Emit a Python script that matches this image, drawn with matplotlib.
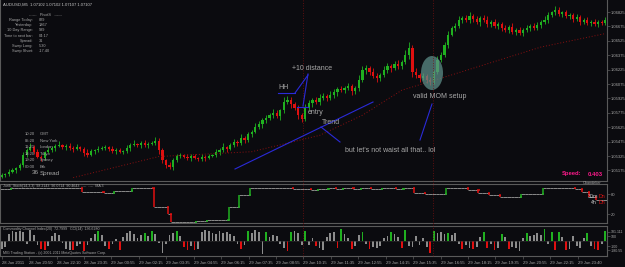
import matplotlib
matplotlib.use("Agg")
import matplotlib.pyplot as plt
from matplotlib.patches import Ellipse
from matplotlib.lines import Line2D
from matplotlib.collections import LineCollection
from matplotlib.transforms import Affine2D
import numpy as np

# ---------------- data ----------------
first_open = 1.0511
close = [
    1.0513, 1.0514, 1.0516, 1.0518, 1.0520, 1.0523, 1.0534, 1.0539, 1.0542, 1.0537,
    1.0532, 1.0530, 1.0537, 1.0539, 1.0541, 1.0543, 1.0544, 1.0542, 1.0543, 1.0541,
    1.0540, 1.0542, 1.0540, 1.0536, 1.0534, 1.0538, 1.0539, 1.0540, 1.0541, 1.0542,
    1.0540, 1.0538, 1.0539, 1.0537, 1.0538, 1.0541, 1.0544, 1.0545, 1.0544, 1.0546,
    1.0544, 1.0545, 1.0546, 1.0548, 1.0539, 1.0528, 1.0523, 1.0521, 1.0528, 1.0533,
    1.0534, 1.0532, 1.0530, 1.0533, 1.0530, 1.0529, 1.0532, 1.0530, 1.0533, 1.0534,
    1.0537, 1.0539, 1.0542, 1.0540, 1.0544, 1.0547, 1.0546, 1.0551, 1.0549, 1.0555,
    1.0558, 1.0563, 1.0566, 1.0570, 1.0572, 1.0575, 1.0577, 1.0574, 1.0580, 1.0589,
    1.0591, 1.0587, 1.0583, 1.0575, 1.0571, 1.0583, 1.0588, 1.0591, 1.0589, 1.0593,
    1.0595, 1.0593, 1.0596, 1.0599, 1.0602, 1.0601, 1.0603, 1.0605, 1.0600, 1.0603,
    1.0612, 1.0622, 1.0624, 1.0620, 1.0616, 1.0614, 1.0617, 1.0622, 1.0626, 1.0624,
    1.0628, 1.0626, 1.0630, 1.0638, 1.0645, 1.0620, 1.0617, 1.0614, 1.0616, 1.0612,
    1.0610, 1.0620, 1.0633, 1.0638, 1.0648, 1.0659, 1.0666, 1.0668, 1.0674, 1.0676,
    1.0674, 1.0678, 1.0675, 1.0672, 1.0676, 1.0674, 1.0670, 1.0672, 1.0668, 1.0670,
    1.0666, 1.0664, 1.0667, 1.0662, 1.0664, 1.0661, 1.0664, 1.0666, 1.0668, 1.0666,
    1.0669, 1.0672, 1.0674, 1.0679, 1.0682, 1.0685, 1.0680, 1.0682, 1.0678, 1.0679,
    1.0675, 1.0677, 1.0672, 1.0674, 1.0671, 1.0672, 1.0670, 1.0672, 1.0671, 1.0674,
]
# wick lengths above / below the body, in pips
wick_up = [
    2, 1, 3, 2, 1, 2, 3, 2, 4, 2, 3, 2, 1, 3, 2, 2, 4, 1, 2, 3,
    2, 3, 1, 2, 4, 2, 1, 3, 2, 2, 1, 3, 2, 2, 1, 3, 2, 4, 1, 2,
    3, 2, 2, 4, 3, 2, 1, 3, 2, 2, 2, 1, 3, 2, 2, 1, 3, 2, 2, 1,
    3, 2, 4, 1, 2, 3, 2, 4, 2, 3, 2, 4, 3, 2, 3, 2, 4, 3, 2, 5,
    4, 3, 2, 3, 2, 4, 3, 2, 3, 4, 3, 2, 4, 3, 2, 3, 2, 4, 3, 2,
    5, 4, 3, 2, 4, 3, 2, 4, 3, 2, 3, 4, 2, 5, 6, 3, 4, 2, 3, 2,
    3, 2, 4, 3, 3, 4, 2, 3, 4, 2, 3, 4, 2, 3, 2, 3, 4, 2, 3, 2,
    2, 3, 2, 4, 2, 3, 2, 3, 2, 3, 3, 2, 4, 3, 2, 4, 3, 2, 3, 2,
    2, 3, 2, 2, 3, 2, 3, 2, 2, 3,
]
wick_dn = [
    1, 2, 2, 1, 3, 2, 2, 3, 1, 2, 2, 3, 2, 1, 2, 3, 1, 2, 3, 2,
    3, 1, 2, 3, 2, 1, 3, 2, 1, 2, 2, 2, 3, 1, 2, 2, 3, 1, 2, 3,
    2, 3, 1, 2, 4, 3, 3, 2, 3, 2, 3, 2, 2, 3, 1, 2, 2, 3, 1, 2,
    2, 3, 2, 3, 1, 2, 3, 2, 3, 2, 3, 2, 2, 4, 3, 2, 3, 2, 4, 3,
    2, 4, 3, 4, 3, 2, 3, 4, 2, 3, 2, 3, 2, 3, 4, 2, 3, 2, 4, 3,
    3, 2, 4, 3, 2, 4, 3, 2, 3, 4, 2, 3, 3, 2, 4, 5, 3, 4, 2, 3,
    4, 3, 2, 3, 2, 3, 2, 3, 2, 3, 2, 3, 3, 2, 4, 2, 3, 3, 2, 3,
    3, 2, 3, 2, 3, 2, 3, 2, 3, 2, 2, 3, 2, 3, 2, 3, 2, 3, 2, 3,
    3, 2, 3, 2, 2, 3, 2, 3, 2, 2,
]

ma_idx = [20, 44, 70, 89, 101, 112, 126, 151, 169]
ma_val = [1.0510, 1.0532, 1.0537, 1.0554, 1.0575, 1.0601, 1.0617, 1.0646, 1.0660]

stoch_lvl = [
    96, 96, 96, 98, 98, 98, 98, 98, 98, 98, 98, 98, 98, 98, 98, 98, 98, 98, 98, 98,
    98, 98, 98, 86, 86, 86, 86, 86, 86, 83, 83, 83, 90, 90, 90, 90, 90, 98, 98, 98,
    98, 98, 98, 41, 41, 41, 41, 20, -4, -4, -4, -4, -4, -4, -4, -1, -1, -1, 2, 2,
    2, 2, 2, 2, 41, 41, 41, 77, 77, 77, 98, 98, 98, 98, 98, 98, 98, 98, 98, 98,
    98, 98, 95, 95, 95, 95, 95, 92, 92, 95, 95, 95, 98, 98, 95, 95, 98, 98, 98, 96,
    96, 98, 98, 98, 95, 95, 95, 98, 98, 98, 98, 96, 96, 98, 98, 98, 83, 83, 83, 80,
    80, 80, 80, 80, 80, 98, 98, 98, 98, 98, 98, 92, 92, 92, 83, 83, 83, 77, 77, 77,
    71, 71, 71, 71, 71, 71, 80, 80, 80, 80, 80, 80, 98, 98, 98, 98, 98, 98, 98, 98,
    98, 95, 95, 86, 86, 71, 71, 62, 62, 62,
]

cci = [
    -160, -120, 150, 200, 180, 210, 190, -60, 230, 120,
    -80, -150, -170, -90, 110, 160, 130, -40, -160, -180,
    -170, -100, -60, -190, -80, 60, 140, 200, 120, -90,
    -160, -60, 40, -170, 90, 170, 200, 150, 60, 120,
    170, 100, 200, 150, -40, -230, -60, 130, 170, 210,
    100, -120, -170, -90, -180, -150, 180, 220, 200, 160,
    140, 200, 170, 190, 150, 110, -50, -160, -80, 200,
    160, 230, 180, -260, 190, 80, 130, 100, -50, -130,
    -200, 180, 200, 160, -80, 200, -70, 60, -90, -130,
    -170, 80, 170, 190, -140, 240, 150, 60, -160, -100,
    130, 190, -60, -150, -120, -140, -90, 60, 100, 180,
    150, 90, -140, 220, -100, -120, 100, -80, 60, -120,
    -240, 210, 160, 190, 150, 170, 130, 160, -60, -150,
    -80, -130, -160, -110, 90, 190, -130, -60, -170, -140,
    140, 80, -160, -110, -130, -200, 70, 170, 100, 130,
    160, 120, 250, -60, 180, -170, 190, 90, -180, -150,
    110, -100, -130, 60, 170, -90, -150, -170, -60, 200,
]
cci_green = [27, 40, 42, 49, 69, 74, 81, 85, 95, 101, 109, 113, 121, 125, 135,
             140, 147, 152, 154, 156, 164, 169]
cci_red = [11, 12, 20, 23, 30, 33, 51, 52, 54, 67, 80, 88, 94, 98, 103, 112, 120,
           129, 132, 136, 138, 142, 155, 158, 166, 167]

price_ticks = [1.06825, 1.06675, 1.06525, 1.06375, 1.06225, 1.06075,
               1.05925, 1.05775, 1.05625, 1.05475, 1.05325, 1.05175]
time_labels = ["28 Jun 2011", "28 Jun 20:50", "28 Jun 22:10", "28 Jun 23:35",
               "29 Jun 00:55", "29 Jun 02:15", "29 Jun 03:35", "29 Jun 04:55",
               "29 Jun 06:15", "29 Jun 07:35", "29 Jun 08:55", "29 Jun 10:15",
               "29 Jun 11:35", "29 Jun 12:55", "29 Jun 14:15", "29 Jun 15:35",
               "29 Jun 16:55", "29 Jun 18:15", "29 Jun 19:35", "29 Jun 20:55",
               "29 Jun 22:15", "29 Jun 23:40"]

# ---------------- style ----------------
BG = "#0b0b0f"
GRID = "#5a5a5a"
TXT = "#a8a8a8"
UP = "#20b020"
DN = "#e01010"
W, H = 625, 267
FONT = "Liberation Sans"
PIP = 0.0001

fig = plt.figure(figsize=(W / 100, H / 100), dpi=100)
fig.patch.set_facecolor(BG)
pix = Affine2D().scale(1, -1).translate(0, H)   # pixel coords, origin top-left


def rect(x0, y0, x1, y1):
    return [x0 / W, 1 - y1 / H, (x1 - x0) / W, (y1 - y0) / H]


N = len(close)
idx = np.arange(N)
XL = (-0.5, N - 0.5)

ax1 = fig.add_axes(rect(0, 0, 607, 181))
ax2 = fig.add_axes(rect(0, 184, 607, 223))
ax3 = fig.add_axes(rect(0, 226, 607, 256))
for a in (ax1, ax2, ax3):
    a.set_facecolor(BG)
    a.set_xlim(*XL)
    for s in a.spines.values():
        s.set_color(GRID)
        s.set_linewidth(0.8)
    a.spines["top"].set_visible(a is not ax1)
    a.tick_params(axis="x", bottom=False, labelbottom=False)
    a.yaxis.tick_right()
    a.tick_params(axis="y", colors=GRID, labelcolor=TXT, labelsize=3,
                  length=2, width=0.5, pad=1)

# ---- main price panel ----
opens = np.array([first_open] + close[:-1])
closes = np.array(close)
top = np.maximum(opens, closes)
bot = np.minimum(opens, closes)
highs = top + np.array(wick_up) * PIP
lows = bot - np.array(wick_dn) * PIP
body = closes - opens
body = np.where(np.abs(body) < 0.00003, np.sign(body + 1e-12) * 0.00003, body)
cols = [UP if c >= o else DN for o, c in zip(opens, closes)]
ax1.vlines(idx, lows, highs, colors=cols, linewidth=0.6)
ax1.bar(idx, body, bottom=opens, width=0.62, color=cols, linewidth=0)
ax1.plot(ma_idx, ma_val, color="#8a1010", lw=0.7, ls=(0, (1, 2)))
ax1.set_ylim(1.05065, 1.06950)
ax1.set_yticks(price_ticks)
ax1.set_yticklabels([f"{v:.5f}" for v in price_ticks], fontfamily=FONT)

# ---- stochastic step panel ----
lv = np.array(stoch_lvl)
hsegs = [[(i - 0.5, lv[i]), (i + 0.5, lv[i])] for i in range(N)]
ax2.add_collection(LineCollection(hsegs, colors="#8a8a8a", linewidths=0.7))
vsegs, vcols = [], []
for i in range(N - 1):
    if lv[i + 1] != lv[i]:
        c = UP if lv[i + 1] > lv[i] else DN
        vsegs.append([(i + 0.5, lv[i]), (i + 0.5, lv[i + 1])])
        vcols.append(c)
        vsegs.append([(i + 0.2, lv[i]), (i + 0.8, lv[i])])
        vcols.append(c)
ax2.add_collection(LineCollection(vsegs, colors=vcols, linewidths=1.1))
ax2.set_ylim(-7, 110)
ax2.set_yticks([80, 20])
ax2.set_yticklabels(["80", "20"], fontfamily=FONT)

# ---- CCI histogram panel ----
hc = ["#8c8c8c"] * N
for i in cci_green:
    hc[i] = UP
for i in cci_red:
    hc[i] = DN
ax3.bar(idx, cci, width=0.5, color=hc, linewidth=0)
ax3.axhline(0, color="#303030", lw=0.4)
ax3.set_ylim(-300, 300)
ax3.set_yticks([181.11, 100, -100, -180.56])
ax3.set_yticklabels(["181.111", "100", "-100", "-180.55"], fontfamily=FONT)
ax3.tick_params(axis="y", labelsize=2.6)
tick_pos = np.arange(len(time_labels)) * 7.68
ax3.set_xticks(tick_pos)
ax3.set_xticklabels(time_labels, fontfamily=FONT)
ax3.tick_params(axis="x", bottom=True, labelbottom=True, colors=GRID,
                labelcolor=TXT, labelsize=3, length=2, width=0.5, pad=1.5)
for t in ax3.get_xticklabels():
    t.set_horizontalalignment("left")

# ---- vertical session lines ----
for xp in (303, 433):
    fig.add_artist(Line2D([xp, xp], [0, 256], transform=pix, color="#7a1010",
                          lw=0.6, ls=(0, (1, 2))))

# ---- annotations (blue lines, ellipse, text) ----
BLUE = "#2a2ad8"
for (xa, ya), (xb, yb) in [((235, 169), (373, 102)), ((321, 127), (340, 142)),
                           ((308, 74), (303, 106)), ((308, 75), (295, 93)),
                           ((278, 93), (295, 93)), ((297, 107), (308, 107)),
                           ((420, 140), (432, 104))]:
    fig.add_artist(Line2D([xa, xb], [ya, yb], transform=pix, color=BLUE, lw=0.8))
fig.add_artist(Ellipse((432, 73), 22, 34, transform=pix, facecolor="#5f918b",
                       edgecolor="none", alpha=0.72))


def ptxt(x, y, s, size=5, color=TXT, ha="left", **kw):
    fig.text(x / W, 1 - y / H, s, fontsize=size, color=color, ha=ha, va="center",
             fontfamily=FONT, **kw)


ptxt(292, 69, "+10 distance")
ptxt(278, 88, "HH")
ptxt(308, 112, "entry")
ptxt(322, 123, "Trend")
ptxt(345, 151, "but let's not waist all that.. lol")
ptxt(413, 97, "valid MOM setup")

# header and info block
ptxt(3, 5, "AUDUSD,M5  1.07102 1.07102 1.07107 1.07107", size=3, color="#c8c8c8")
ptxt(45, 15, "------   PivotS   ------", size=2.8, ha="center")
info = [("Range Today:", "829"), ("Yesterday:", "1867"), ("10 Day Range:", "989"),
        ("Time to next bar:", "04:17"), ("Spread:", "31"), ("Swap Long:", "5.30"),
        ("Swap Short:", "-17.40")]
for k, (lab, val) in enumerate(info):
    yy = 20 + k * 5.2
    ptxt(33, yy, lab, size=2.8, ha="right")
    ptxt(39, yy, val, size=2.8)

sess = [("10:20", "GMT"), ("05:20", "New York"), ("11:20", "London"),
        ("18:20", "Tokyo"), ("19:20", "Sydney"), ("00:00", "Brk")]
for k, (tm, nm) in enumerate(sess):
    yy = 134 + k * 6.6
    ptxt(25, yy, tm, size=3)
    ptxt(40, yy, nm, size=3)
ptxt(32, 173, "36", size=4.5)
ptxt(40, 173, "Spread", size=4.5)

ptxt(562, 174, "Speed:", size=4.2, color="#ff1a8c", fontweight="bold")
ptxt(588, 174, "0.403", size=4.2, color="#ff1a8c", fontweight="bold")
ptxt(583, 183, "Chandelier", size=2.8)

# middle panel labels
ptxt(3, 186, "Jurik_Stoch(14,3,3)  98.2143  96.0714  90.4643  ----  ----  MA 3",
     size=2.6)
ptxt(588, 196, "30m", size=3.8, color="#c8c8c8")
ptxt(599, 196, "Dn", size=3.8, color=DN)
ptxt(591, 203, "4h", size=3.8, color="#c8c8c8")
ptxt(599, 203, "Dn", size=3.8, color=DN)

# bottom panel labels
ptxt(3, 229, "Commodity Channel Index(20)  72.7999   CCI(14)  136.6280", size=2.6)
ptxt(3, 253, "MIG Trading Station - (c) 2001-2011 MetaQuotes Software Corp.",
     size=2.6)

fig.savefig("out.png", dpi=100, facecolor=BG)
